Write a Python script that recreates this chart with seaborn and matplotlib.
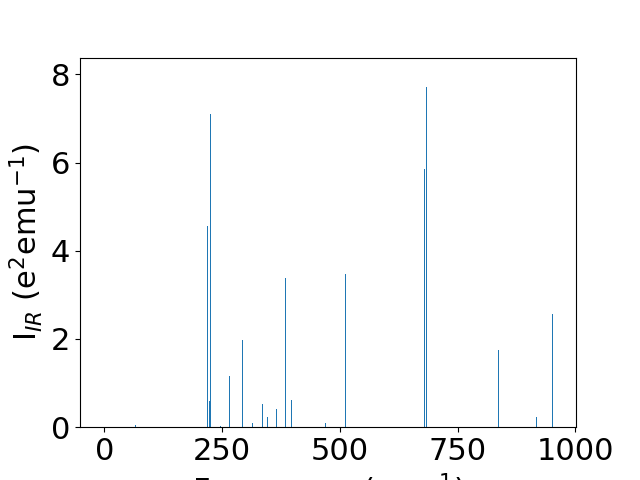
import matplotlib
matplotlib.use('Agg')
import matplotlib.pyplot as plt
import seaborn as sns
import numpy as np
import pandas as pd

# IR spectrum
freq = [65.8, 218.7, 222.9, 225.1, 246.3, 265.4, 293.0, 314.2, 335.5, 346.0,
        365.2, 385.1, 397.0, 469.2, 511.7, 679.4, 683.7, 837.0, 917.2, 951.2]
intensity = [0.04, 4.57, 0.60, 7.09, 0.03, 1.16, 1.98, 0.10, 0.53, 0.23,
             0.42, 3.39, 0.62, 0.10, 3.48, 5.86, 7.72, 1.75, 0.23, 2.57]
x_ticks = [0, 250, 500, 750, 1000]
y_ticks = [0, 2, 4, 6, 8]

df = pd.DataFrame({'Frequency': freq, 'Intensity': intensity})

# bar width of ~2 cm^-1; seaborn scales width by the smallest spacing
bar_w = 2.0
min_gap = np.min(np.diff(np.sort(df['Frequency'].values)))

fig, ax = plt.subplots(figsize=(6.4, 4.8), dpi=100)
sns.barplot(data=df, x='Frequency', y='Intensity', native_scale=True,
            width=bar_w / min_gap, color='#1f77b4', saturation=1,
            linewidth=0, ax=ax)

ax.set_xlim(-51.6, 1001.5)
ax.set_ylim(0, 8.38)
ax.set_xticks(x_ticks)
ax.set_yticks(y_ticks)
ax.tick_params(labelsize=22)
ax.set_xlabel(r'Frequency (cm$^{-1}$)', fontsize=22)
ax.set_ylabel(r'I$_{IR}$ (e$^2$emu$^{-1}$)', fontsize=22)

plt.savefig('out.png', dpi=100)
plt.close()
